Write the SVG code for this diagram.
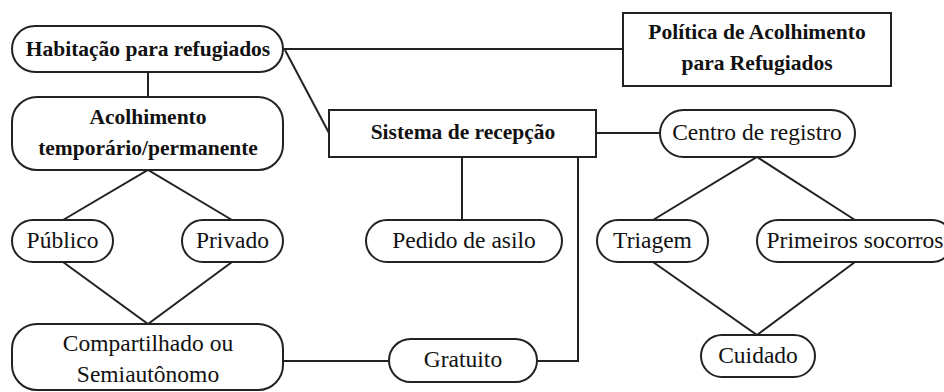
<svg xmlns="http://www.w3.org/2000/svg" width="944" height="392" viewBox="0 0 944 392">
<style>
.box{fill:#fff;stroke:#222;stroke-width:2}
.ln{fill:none;stroke:#222;stroke-width:2}
text{font-family:'Liberation Serif','DejaVu Serif',serif;fill:#111;text-anchor:middle}
.b{font-weight:bold;font-size:21.5px}
.r{font-size:23.5px}
</style>
<rect width="944" height="392" fill="#fff"/>
<g id="connectors" class="ln">
<line x1="283" y1="49" x2="623" y2="49"/>
<line x1="285" y1="50" x2="329" y2="133"/>
<line x1="148" y1="72" x2="148" y2="97"/>
<polyline points="63,220 148,170 232,220"/>
<polyline points="63,262 148,324 232,262"/>
<line x1="596" y1="133" x2="660" y2="133"/>
<line x1="462" y1="157" x2="462" y2="220"/>
<polyline points="578,157 578,361 537,361"/>
<line x1="283" y1="361" x2="389" y2="361"/>
<polyline points="653,220 757,157 855,220"/>
<polyline points="653,262 757,335 855,262"/>
</g>
<g id="habitacao">
<rect class="box" x="12" y="26" width="271" height="46" rx="23"/>
<text class="b" x="148" y="56" font-family="Liberation Serif">Habitação para refugiados</text>
</g>
<g id="politica">
<rect class="box" x="623" y="13" width="268" height="73"/>
<text class="b" x="757" y="39">Política de Acolhimento</text>
<text class="b" x="757" y="70">para Refugiados</text>
</g>
<g id="acolhimento">
<rect class="box" x="12" y="97" width="271" height="73" rx="25"/>
<text class="b" x="148" y="124">Acolhimento</text>
<text class="b" x="148" y="155">temporário/permanente</text>
</g>
<g id="sistema">
<rect class="box" x="329" y="110" width="267" height="47"/>
<text class="b" x="463" y="139">Sistema de recepção</text>
</g>
<g id="centro">
<rect class="box" x="660" y="110" width="195" height="47" rx="23.5"/>
<text class="r" x="757" y="140">Centro de registro</text>
</g>
<g id="publico">
<rect class="box" x="12" y="220" width="101" height="42" rx="21"/>
<text class="r" x="62.5" y="248">Público</text>
</g>
<g id="privado">
<rect class="box" x="182" y="220" width="101" height="42" rx="21"/>
<text class="r" x="232.5" y="248">Privado</text>
</g>
<g id="pedido">
<rect class="box" x="366" y="220" width="196" height="42" rx="21"/>
<text class="r" x="464" y="248">Pedido de asilo</text>
</g>
<g id="triagem">
<rect class="box" x="597" y="220" width="111" height="42" rx="21"/>
<text class="r" x="652.5" y="248">Triagem</text>
</g>
<g id="primeiros">
<rect class="box" x="757" y="220" width="196" height="42" rx="21"/>
<text class="r" x="855" y="248">Primeiros socorros</text>
</g>
<g id="compartilhado">
<rect class="box" x="12" y="324" width="271" height="66" rx="25"/>
<text class="r" x="148" y="351">Compartilhado ou</text>
<text class="r" x="148" y="382">Semiautônomo</text>
</g>
<g id="gratuito">
<rect class="box" x="389" y="339" width="148" height="43" rx="21.5"/>
<text class="r" x="463" y="367">Gratuito</text>
</g>
<g id="cuidado">
<rect class="box" x="701" y="335" width="114" height="42" rx="21"/>
<text class="r" x="758" y="363">Cuidado</text>
</g>
</svg>
